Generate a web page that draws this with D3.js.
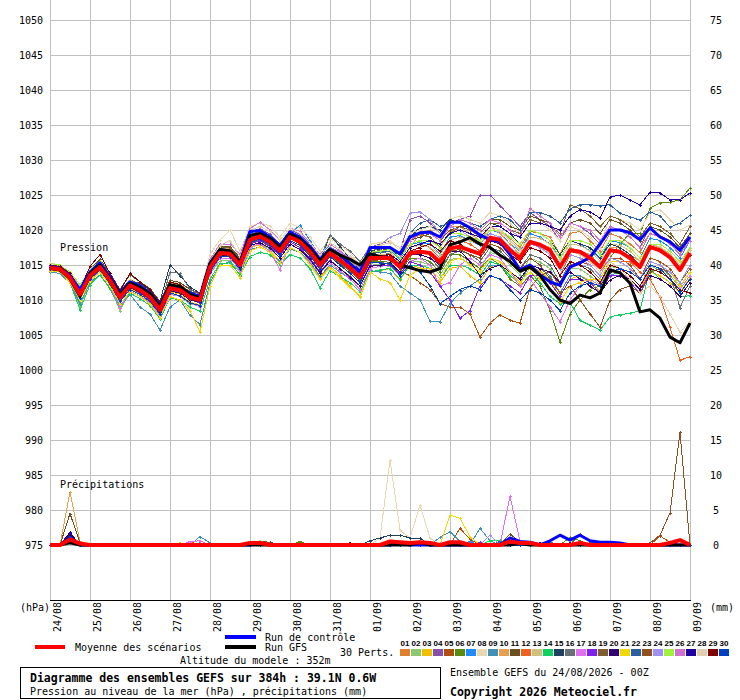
<!DOCTYPE html>
<html>
<head>
<meta charset="utf-8">
<title>Diagramme des ensembles GEFS</title>
<script src="https://cdn.jsdelivr.net/npm/d3@7/dist/d3.min.js"></script>
<style>
  body { margin: 0; background: #fff; }
  text { font-family: "DejaVu Sans Mono", monospace; font-size: 10px; fill: #000; }
  .grid line { stroke: #c0c0c0; stroke-width: 1px; shape-rendering: crispEdges; }
  .pert { fill: none; stroke-width: 1px; shape-rendering: crispEdges; }
  .bold { font-weight: bold; }
</style>
</head>
<body>
<script>
// time steps (hours) and tick labels
var hours = d3.range(0, 385, 6);
var days = ["24/08","25/08","26/08","27/08","28/08","29/08","30/08","31/08","01/09",
            "02/09","03/09","04/09","05/09","06/09","07/09","08/09","09/09"];
var pressTicks = d3.range(975, 1051, 5);
var rainTicks = d3.range(0, 76, 5);

var pertColors = ["#e07f30","#8cc870","#f0c000","#8850a8","#b05010","#5a8a10","#1e8cff","#e8d8b0",
  "#4090b8","#e8a050","#6a5020","#f06020","#d0c080","#10d060","#204060","#687078","#e070f0",
  "#8020f0","#806030","#300070","#f0d800","#2860a0","#905020","#a090f0","#a0f040","#d070d0",
  "#2000a0","#e0d0b0","#800000","#0040c0"];

// sea level pressure (hPa), one value every 6 h
var meanP = [1014.6,1014.4,1013.2,1010.8,1013.5,1014.7,1012.8,1010.4,1012.1,1011.4,
  1010.4,1008.6,1011.7,1011.4,1010.4,1010.0,1014.7,1016.7,1016.6,1015.0,
  1018.6,1019.1,1018.3,1017.0,1019.0,1018.3,1016.9,1015.0,1016.7,1015.7,
  1014.6,1013.3,1016.0,1016.0,1016.0,1014.7,1016.7,1016.9,1016.7,1015.4,
  1017.4,1017.6,1017.1,1016.6,1018.9,1018.6,1017.1,1016.0,1018.3,1017.9,
  1017.1,1014.7,1017.1,1016.9,1016.0,1014.7,1017.1,1016.9,1016.0,1014.7,
  1017.6,1017.1,1016.1,1014.3,1016.7];

var controlP = [1014.8,1014.5,1013.5,1011.5,1014.0,1015.3,1013.3,1011.0,1012.6,1012.0,
  1011.0,1009.2,1012.0,1011.5,1011.0,1010.5,1015.3,1017.2,1017.0,1015.4,
  1019.8,1019.9,1019.0,1017.8,1019.7,1019.0,1017.6,1015.8,1017.3,1016.4,
  1015.2,1014.0,1017.5,1017.5,1017.5,1016.6,1019.0,1019.6,1019.7,1019.0,
  1021.1,1021.1,1020.3,1019.3,1018.6,1018.3,1016.5,1014.3,1015.0,1013.6,
  1012.6,1012.1,1014.7,1015.3,1016.1,1018.0,1020.0,1020.0,1019.6,1018.6,
  1020.3,1019.0,1018.3,1017.1,1019.0];

var gfsP = [1014.5,1014.3,1013.0,1010.5,1013.8,1015.0,1013.0,1010.8,1012.4,1011.8,
  1010.9,1009.0,1012.2,1011.9,1010.8,1010.3,1015.2,1017.2,1017.0,1015.4,
  1019.2,1019.5,1018.8,1017.5,1019.4,1018.7,1017.3,1015.6,1017.2,1016.4,
  1015.8,1015.0,1016.6,1016.2,1015.8,1015.0,1014.6,1014.2,1014.0,1014.5,
  1017.9,1018.3,1018.9,1018.0,1017.5,1016.4,1015.5,1014.1,1014.7,1013.5,
  1011.5,1010.0,1009.5,1010.7,1010.3,1011.0,1014.3,1013.9,1012.4,1008.3,
  1008.6,1007.4,1004.7,1003.9,1006.7];

// the 30 perturbations, 01 to 30
var pertP = [
 [1014.9,1014.7,1013.6,1011.0,1013.9,1015.1,1013.0,1010.8,1012.5,1011.8,
  1010.9,1009.0,1012.0,1011.9,1010.9,1010.4,1015.2,1017.3,1017.0,1015.4,
  1019.2,1019.6,1018.8,1017.4,1019.6,1018.9,1017.3,1015.4,1017.3,1016.4,
  1015.2,1014.0,1016.8,1017.0,1017.5,1016.0,1018.5,1019.3,1019.0,1017.6,
  1019.8,1020.5,1020.0,1019.0,1020.5,1020.0,1018.8,1017.5,1019.8,1019.5,
  1019.0,1016.5,1019.5,1019.8,1018.5,1017.0,1019.5,1019.0,1018.0,1016.8,
  1019.5,1019.2,1018.5,1017.0,1019.5],
 [1014.2,1014.0,1012.4,1009.0,1012.6,1014.0,1012.0,1008.4,1011.2,1010.6,
  1009.6,1007.8,1011.0,1010.5,1009.4,1009.2,1013.8,1015.6,1015.6,1014.0,
  1017.4,1018.0,1017.3,1016.0,1018.0,1017.2,1015.9,1014.0,1015.6,1014.5,
  1013.4,1012.0,1015.2,1015.0,1014.8,1013.5,1015.6,1015.5,1015.0,1013.6,
  1015.8,1016.0,1015.2,1014.5,1016.8,1016.4,1015.0,1013.6,1016.0,1015.4,
  1014.5,1012.0,1014.6,1014.4,1013.5,1012.2,1014.8,1014.5,1013.5,1012.0,
  1014.9,1014.2,1013.5,1011.8,1014.0],
 [1014.4,1014.1,1012.8,1010.2,1013.0,1014.2,1012.2,1009.8,1011.6,1010.9,
  1009.8,1008.0,1011.2,1010.8,1009.7,1009.3,1014.0,1016.0,1016.0,1014.3,
  1017.5,1017.9,1017.0,1015.6,1017.4,1016.8,1015.2,1013.2,1014.8,1013.6,
  1012.0,1010.4,1014.0,1014.2,1014.5,1012.8,1015.0,1014.6,1013.8,1012.5,
  1014.5,1014.8,1013.5,1012.4,1014.8,1015.0,1013.5,1012.2,1014.6,1014.2,
  1012.8,1010.5,1013.0,1013.5,1012.8,1011.2,1014.0,1013.8,1012.6,1011.5,
  1014.0,1013.5,1012.5,1011.0,1013.2],
 [1015.1,1014.9,1013.8,1011.4,1014.1,1015.4,1013.3,1010.9,1012.7,1012.0,
  1011.0,1009.2,1012.3,1012.0,1010.8,1010.5,1015.4,1017.5,1017.4,1015.8,
  1019.7,1020.2,1019.4,1018.0,1020.0,1019.4,1018.0,1016.2,1018.0,1017.0,
  1016.0,1014.6,1017.5,1018.0,1018.5,1017.0,1021.5,1022.0,1021.0,1019.5,
  1021.0,1021.5,1022.0,1025.0,1025.0,1023.5,1022.0,1020.5,1022.5,1021.5,
  1020.5,1018.5,1021.0,1020.5,1019.5,1018.0,1020.5,1020.0,1019.0,1017.5,
  1020.5,1020.0,1019.0,1017.5,1019.5],
 [1015.0,1014.9,1013.9,1011.6,1014.4,1015.5,1013.6,1011.2,1012.9,1012.1,
  1011.0,1009.4,1012.5,1012.0,1011.0,1010.6,1015.3,1017.2,1017.0,1015.5,
  1018.8,1019.3,1018.4,1017.0,1019.1,1018.3,1016.8,1014.8,1016.5,1015.5,
  1014.4,1013.0,1015.8,1015.5,1015.0,1014.0,1013.5,1012.5,1011.5,1009.5,
  1009.0,1009.0,1008.0,1004.7,1006.7,1007.9,1007.1,1006.7,1011.7,1013.5,
  1014.0,1012.0,1015.0,1015.5,1015.0,1013.5,1016.0,1016.0,1015.0,1013.0,
  1016.0,1015.5,1014.5,1012.5,1015.0],
 [1014.3,1014.1,1012.9,1010.4,1013.2,1014.4,1012.5,1010.0,1011.8,1011.1,
  1010.0,1008.2,1011.4,1011.0,1010.0,1009.6,1014.3,1016.3,1016.2,1014.6,
  1018.0,1018.6,1017.8,1016.5,1018.5,1017.8,1016.4,1014.5,1016.2,1015.2,
  1014.1,1012.8,1015.5,1015.5,1015.4,1014.0,1016.0,1016.0,1015.5,1014.0,
  1016.5,1016.5,1015.5,1014.5,1016.0,1015.0,1013.0,1012.0,1013.5,1012.0,
  1008.5,1004.0,1008.0,1010.0,1011.5,1012.0,1016.0,1018.0,1019.5,1019.5,
  1023.1,1023.9,1024.0,1024.3,1026.0],
 [1014.7,1014.5,1013.3,1010.9,1013.6,1014.9,1012.9,1010.5,1012.2,1011.6,
  1010.5,1008.8,1011.8,1011.6,1010.6,1010.2,1015.0,1017.2,1017.3,1015.6,
  1019.6,1020.0,1019.2,1018.0,1019.5,1020.7,1018.5,1016.2,1018.0,1017.0,
  1015.8,1014.4,1017.3,1017.4,1017.2,1015.8,1018.0,1018.2,1018.0,1016.6,
  1019.0,1019.2,1018.5,1017.8,1020.0,1019.6,1018.0,1017.0,1019.5,1019.0,
  1018.0,1016.0,1018.5,1018.0,1017.0,1016.0,1018.5,1018.2,1017.5,1016.0,
  1018.8,1018.5,1017.5,1016.0,1018.5],
 [1015.3,1015.0,1014.0,1011.8,1014.4,1015.6,1013.6,1011.3,1013.0,1012.3,
  1011.3,1009.6,1012.6,1012.4,1011.4,1011.0,1016.5,1018.6,1020.0,1017.0,
  1020.5,1021.0,1020.6,1019.0,1021.0,1020.3,1019.0,1017.0,1018.8,1017.8,
  1016.8,1015.0,1018.0,1018.2,1018.5,1017.0,1019.5,1020.0,1020.0,1019.0,
  1021.5,1022.0,1021.5,1021.0,1022.5,1022.0,1021.0,1019.5,1021.5,1021.0,
  1020.0,1018.5,1020.5,1020.0,1019.0,1017.5,1022.0,1021.5,1021.0,1020.0,
  1022.5,1022.9,1021.5,1020.0,1020.7],
 [1014.0,1013.8,1012.4,1009.5,1012.5,1013.6,1011.7,1009.2,1010.8,1009.0,
  1008.0,1005.7,1009.0,1010.0,1007.8,1006.5,1012.5,1015.0,1015.5,1013.5,
  1017.2,1017.6,1016.8,1015.5,1017.3,1016.8,1015.4,1013.4,1015.0,1014.0,
  1013.0,1011.6,1014.2,1014.0,1013.8,1012.0,1011.0,1010.0,1007.0,1006.9,
  1009.5,1011.0,1012.0,1013.0,1015.0,1015.0,1013.5,1012.5,1015.0,1014.5,
  1013.5,1011.0,1013.5,1013.5,1012.5,1011.0,1013.5,1014.0,1013.0,1011.5,
  1014.5,1014.0,1013.0,1011.5,1013.5],
 [1014.8,1014.6,1013.5,1011.2,1013.8,1015.0,1013.2,1010.8,1012.5,1011.7,
  1010.8,1009.0,1012.0,1011.8,1010.8,1010.5,1015.5,1017.5,1017.3,1015.7,
  1019.0,1019.4,1018.8,1017.6,1019.4,1018.8,1017.5,1015.8,1017.4,1016.6,
  1015.5,1014.5,1017.0,1016.8,1017.0,1015.0,1017.5,1019.5,1020.0,1019.0,
  1020.5,1020.5,1019.5,1018.5,1020.5,1019.5,1018.0,1016.5,1018.5,1018.0,
  1017.5,1015.0,1017.5,1017.0,1016.5,1015.0,1017.5,1017.5,1016.5,1015.5,
  1018.0,1017.5,1016.5,1015.0,1017.5],
 [1015.0,1014.8,1013.8,1011.6,1014.3,1015.8,1013.8,1011.5,1013.6,1012.6,
  1011.6,1009.8,1012.8,1012.5,1011.5,1011.0,1015.8,1017.6,1017.6,1016.0,
  1019.3,1019.6,1018.8,1017.5,1019.4,1018.8,1017.4,1015.6,1017.3,1016.3,
  1015.3,1014.0,1016.8,1017.0,1017.5,1016.5,1018.5,1019.0,1019.5,1018.5,
  1020.0,1020.5,1020.5,1020.0,1021.5,1021.5,1020.5,1020.0,1022.0,1021.5,
  1021.0,1019.0,1021.0,1021.5,1021.0,1019.5,1021.5,1021.0,1020.0,1018.5,
  1020.5,1020.0,1019.0,1017.5,1019.5],
 [1014.5,1014.3,1013.0,1010.6,1013.3,1014.5,1012.6,1010.2,1011.9,1011.3,
  1010.2,1008.4,1011.5,1011.2,1010.2,1009.8,1014.4,1016.4,1016.4,1014.8,
  1018.3,1018.8,1018.0,1016.7,1018.8,1018.0,1016.6,1014.8,1016.4,1015.3,
  1014.2,1013.0,1015.8,1016.2,1016.5,1015.5,1017.5,1018.0,1017.5,1016.0,
  1018.0,1018.5,1018.0,1017.0,1019.0,1018.5,1017.0,1015.5,1017.5,1017.0,
  1016.0,1013.5,1016.5,1016.0,1015.5,1014.0,1016.0,1015.5,1015.5,1014.0,
  1013.0,1010.4,1006.1,1001.4,1001.9],
 [1014.7,1014.5,1013.4,1011.0,1013.7,1014.9,1013.0,1010.6,1012.3,1011.5,
  1010.6,1008.8,1011.9,1011.6,1010.6,1010.2,1015.0,1017.0,1016.9,1015.2,
  1018.8,1019.4,1018.6,1017.2,1019.3,1018.5,1017.2,1015.3,1017.0,1016.0,
  1015.0,1013.7,1016.4,1016.5,1016.6,1015.4,1017.5,1017.8,1017.5,1016.5,
  1018.5,1019.0,1018.5,1018.0,1020.0,1019.8,1018.5,1017.2,1019.0,1018.8,
  1018.0,1015.8,1018.0,1017.8,1017.0,1015.6,1018.0,1017.8,1017.0,1015.5,
  1018.0,1017.6,1016.6,1015.0,1017.2],
 [1014.3,1014.1,1012.5,1008.6,1012.2,1013.6,1011.6,1008.8,1011.0,1010.2,
  1009.2,1007.3,1010.3,1010.0,1009.0,1008.4,1013.0,1015.2,1015.3,1013.6,
  1016.2,1016.8,1016.5,1015.0,1016.5,1016.0,1014.5,1011.7,1014.2,1013.3,
  1012.5,1011.2,1014.0,1014.3,1014.5,1013.0,1015.0,1015.0,1014.5,1013.0,
  1015.0,1015.0,1014.5,1013.5,1015.5,1015.0,1013.5,1012.5,1014.0,1012.5,
  1010.5,1009.5,1009.7,1007.1,1006.4,1005.7,1007.6,1007.9,1008.1,1008.5,
  1014.5,1013.0,1012.0,1010.5,1010.6],
 [1014.8,1014.7,1013.6,1011.3,1013.9,1015.0,1013.2,1010.9,1012.6,1012.4,
  1011.4,1009.8,1015.0,1013.5,1011.8,1011.0,1015.5,1017.2,1017.0,1015.3,
  1018.8,1019.3,1018.5,1017.3,1019.3,1018.6,1017.3,1015.5,1019.3,1017.6,
  1016.0,1014.3,1017.0,1017.3,1017.5,1016.0,1019.0,1020.3,1020.5,1020.0,
  1021.5,1021.0,1020.5,1019.5,1021.0,1020.5,1019.5,1018.0,1020.0,1019.5,
  1018.5,1016.5,1018.5,1018.0,1017.5,1016.0,1018.0,1017.5,1016.5,1015.0,
  1017.5,1017.0,1016.0,1014.5,1016.5],
 [1014.6,1014.4,1013.3,1011.0,1013.6,1014.8,1013.0,1010.6,1012.4,1011.7,
  1010.8,1009.0,1014.0,1013.8,1011.5,1010.8,1015.2,1017.0,1016.8,1015.2,
  1019.0,1019.4,1018.6,1017.4,1019.2,1018.5,1017.3,1016.0,1019.3,1018.0,
  1017.0,1015.5,1017.5,1017.0,1016.5,1015.0,1016.5,1016.5,1016.0,1014.5,
  1016.5,1017.0,1016.5,1015.5,1017.5,1017.0,1015.5,1014.5,1016.5,1016.0,
  1015.0,1012.5,1015.5,1015.0,1014.5,1013.0,1015.5,1015.5,1014.5,1013.0,
  1015.5,1015.0,1013.5,1008.9,1012.0],
 [1014.3,1014.0,1012.6,1010.0,1012.8,1014.0,1012.0,1008.9,1011.3,1010.5,
  1009.6,1007.7,1010.8,1010.5,1009.6,1009.0,1013.8,1016.0,1016.0,1014.2,
  1017.6,1018.0,1017.0,1014.3,1018.0,1017.2,1015.6,1013.8,1015.3,1014.2,
  1013.0,1011.5,1014.5,1014.8,1015.0,1013.5,1015.5,1016.0,1015.0,1012.0,
  1012.5,1015.0,1016.0,1015.0,1016.5,1016.0,1014.0,1012.0,1013.0,1011.0,
  1009.0,1006.9,1010.0,1012.0,1013.0,1012.0,1014.5,1014.0,1013.0,1011.5,
  1014.5,1014.0,1013.0,1011.5,1013.5],
 [1014.5,1014.2,1013.0,1010.5,1013.2,1014.4,1012.5,1010.0,1011.8,1011.0,
  1010.0,1008.2,1011.4,1011.0,1010.0,1009.6,1014.2,1016.2,1016.2,1014.5,
  1018.0,1018.5,1017.6,1016.3,1018.3,1017.5,1016.0,1014.0,1015.7,1014.5,
  1013.2,1012.0,1015.0,1015.0,1015.0,1013.8,1015.5,1015.0,1014.0,1012.0,
  1010.0,1007.4,1008.5,1012.0,1013.5,1013.0,1012.0,1011.0,1013.5,1013.5,
  1012.5,1010.5,1013.0,1013.0,1012.5,1011.0,1013.5,1013.5,1012.5,1011.0,
  1013.5,1013.0,1012.0,1010.5,1012.5],
 [1015.0,1014.8,1013.8,1011.5,1014.2,1015.5,1013.5,1011.2,1012.9,1012.2,
  1011.2,1009.5,1012.5,1012.2,1011.2,1010.9,1015.6,1017.6,1017.4,1015.8,
  1019.3,1019.8,1019.0,1017.7,1019.6,1019.0,1017.6,1015.8,1017.6,1016.7,
  1015.8,1014.5,1016.8,1016.8,1017.0,1016.5,1019.0,1019.5,1019.0,1017.5,
  1019.5,1020.5,1020.0,1019.5,1021.0,1021.0,1020.0,1019.5,1021.5,1021.0,
  1020.5,1019.5,1023.6,1023.0,1022.0,1020.5,1022.0,1021.5,1020.5,1019.0,
  1021.0,1020.5,1019.5,1018.0,1020.5],
 [1014.4,1014.2,1013.0,1010.6,1013.3,1014.4,1012.5,1010.1,1011.8,1011.1,
  1010.1,1008.3,1011.3,1011.0,1010.0,1009.7,1014.4,1016.4,1016.3,1014.7,
  1017.8,1018.2,1017.4,1016.0,1018.0,1017.2,1015.8,1013.9,1015.6,1014.5,
  1013.3,1012.0,1014.8,1015.0,1015.3,1014.0,1016.5,1016.5,1016.0,1015.0,
  1017.0,1017.0,1015.5,1013.5,1014.5,1015.0,1014.0,1013.0,1015.0,1014.5,
  1014.0,1012.5,1014.0,1013.0,1012.0,1011.0,1012.9,1013.5,1013.0,1011.5,
  1013.5,1013.0,1012.0,1010.5,1012.5],
 [1014.2,1014.0,1012.5,1010.0,1012.7,1014.0,1012.0,1009.5,1011.2,1010.5,
  1009.4,1007.5,1010.5,1010.0,1008.5,1005.4,1012.0,1015.0,1015.0,1013.2,
  1017.0,1017.6,1016.8,1015.3,1017.5,1016.8,1015.0,1013.0,1014.6,1013.2,
  1011.8,1010.6,1014.0,1013.0,1012.5,1010.0,1013.5,1014.5,1014.5,1013.0,
  1015.5,1016.0,1015.0,1014.0,1016.0,1015.5,1014.0,1012.5,1014.0,1013.0,
  1011.5,1009.7,1012.0,1012.5,1013.0,1013.0,1015.5,1015.5,1014.5,1013.0,
  1015.5,1015.0,1014.0,1012.0,1014.0],
 [1014.8,1014.6,1013.4,1011.0,1013.7,1015.0,1013.0,1010.6,1012.3,1011.6,
  1010.6,1008.8,1012.0,1011.6,1010.6,1010.2,1015.0,1017.0,1017.0,1015.4,
  1019.0,1019.6,1018.8,1017.5,1019.5,1018.8,1017.4,1015.5,1017.2,1016.2,
  1015.0,1013.8,1016.6,1016.8,1017.0,1016.5,1019.5,1021.0,1021.5,1020.5,
  1021.0,1021.5,1021.0,1020.5,1021.5,1022.0,1021.5,1020.0,1022.5,1022.5,
  1022.0,1021.0,1023.0,1023.6,1023.6,1023.5,1023.6,1022.4,1021.9,1021.4,
  1022.6,1022.0,1020.4,1021.0,1022.1],
 [1014.5,1014.2,1013.0,1010.7,1013.3,1014.5,1012.6,1010.2,1012.0,1011.3,
  1010.2,1008.5,1011.5,1011.2,1010.2,1009.8,1014.5,1016.5,1016.4,1014.8,
  1018.4,1018.9,1018.0,1016.8,1018.8,1018.0,1016.6,1014.6,1016.3,1015.3,
  1014.2,1012.8,1015.6,1015.8,1016.0,1014.5,1016.5,1016.8,1016.5,1015.0,
  1017.0,1017.2,1016.5,1016.0,1018.0,1017.5,1016.0,1014.5,1016.0,1015.0,
  1013.0,1011.0,1012.0,1010.0,1008.0,1006.1,1010.0,1011.5,1012.0,1011.0,
  1014.0,1014.5,1014.0,1012.5,1014.5],
 [1014.9,1014.6,1013.5,1011.2,1013.8,1015.0,1013.1,1010.8,1012.5,1011.8,
  1010.8,1009.1,1012.2,1011.9,1010.9,1010.5,1015.2,1017.2,1017.1,1015.5,
  1019.2,1019.7,1018.9,1017.6,1019.6,1019.0,1017.6,1015.8,1017.6,1016.8,
  1016.0,1014.5,1017.5,1017.8,1019.0,1019.5,1022.4,1022.6,1021.5,1019.5,
  1020.5,1020.0,1019.0,1018.0,1019.5,1019.0,1017.5,1016.0,1018.0,1017.5,
  1016.5,1014.5,1016.5,1016.0,1015.0,1013.5,1016.0,1015.5,1014.5,1013.0,
  1015.5,1015.0,1014.0,1012.5,1015.0],
 [1015.2,1015.0,1014.0,1012.2,1014.2,1015.6,1013.6,1011.0,1012.8,1012.0,
  1011.0,1009.2,1012.4,1012.0,1011.0,1010.7,1015.6,1017.4,1017.2,1015.6,
  1019.2,1019.6,1018.8,1017.5,1019.5,1018.8,1017.4,1015.5,1017.2,1016.4,
  1015.4,1014.2,1016.8,1017.0,1017.2,1016.0,1018.0,1018.5,1018.5,1017.5,
  1019.5,1019.5,1019.0,1018.5,1020.0,1020.0,1019.0,1018.0,1020.0,1019.5,
  1018.5,1016.0,1018.5,1018.5,1018.0,1016.5,1018.5,1018.5,1017.5,1016.0,
  1018.0,1018.0,1017.0,1015.5,1017.5],
 [1014.9,1014.7,1013.6,1011.3,1014.0,1015.2,1013.2,1010.8,1012.6,1011.8,
  1010.9,1009.1,1012.2,1011.9,1010.8,1010.5,1015.8,1018.0,1018.0,1016.5,
  1020.2,1021.1,1020.0,1018.5,1020.3,1019.8,1018.2,1016.5,1018.0,1017.0,
  1016.0,1014.8,1017.5,1017.5,1017.5,1016.5,1018.5,1019.5,1019.5,1018.5,
  1020.5,1021.5,1021.0,1020.0,1021.5,1021.0,1020.0,1019.0,1023.1,1022.0,
  1021.0,1019.0,1021.0,1020.5,1020.0,1018.5,1020.5,1020.0,1019.0,1017.5,
  1019.5,1019.0,1018.0,1016.5,1018.5],
 [1014.7,1014.5,1013.3,1011.0,1013.6,1014.8,1012.9,1010.5,1012.2,1011.5,
  1010.5,1008.7,1011.8,1011.5,1010.5,1010.1,1014.8,1016.8,1016.7,1015.1,
  1018.7,1019.2,1018.4,1017.1,1019.1,1018.4,1017.0,1015.1,1016.8,1015.8,
  1014.7,1013.4,1016.1,1016.2,1016.5,1015.5,1017.5,1018.0,1018.5,1018.0,
  1019.5,1020.0,1019.5,1019.0,1020.5,1020.5,1019.5,1019.0,1021.0,1021.0,
  1020.5,1020.0,1022.0,1022.9,1022.6,1021.7,1024.7,1025.0,1024.3,1023.6,
  1025.4,1025.3,1024.3,1024.3,1025.3],
 [1015.1,1014.8,1013.8,1011.5,1014.0,1015.3,1013.3,1011.0,1012.7,1012.0,
  1011.0,1009.3,1012.3,1012.0,1011.0,1010.6,1015.6,1017.8,1018.5,1016.2,
  1020.0,1020.5,1019.8,1018.5,1020.3,1019.5,1018.2,1016.3,1018.2,1017.3,
  1016.3,1015.0,1017.6,1017.8,1018.2,1017.5,1019.5,1020.0,1020.5,1019.5,
  1021.0,1021.0,1020.5,1019.5,1020.5,1020.0,1018.5,1017.0,1018.5,1018.0,
  1017.0,1015.0,1017.0,1016.5,1015.5,1014.0,1015.5,1014.5,1013.0,1011.0,
  1012.0,1010.5,1008.0,1005.4,1006.9],
 [1015.0,1014.8,1013.8,1011.5,1014.8,1016.5,1013.8,1011.3,1013.8,1012.6,
  1011.5,1009.6,1012.6,1012.2,1011.0,1010.7,1015.4,1017.2,1017.0,1015.4,
  1018.8,1019.2,1018.5,1017.2,1019.0,1018.3,1017.0,1015.2,1016.8,1015.8,
  1014.8,1013.6,1016.2,1016.3,1016.5,1015.0,1017.0,1017.5,1018.0,1017.0,
  1018.5,1018.0,1017.0,1016.5,1018.5,1018.0,1016.5,1015.5,1017.5,1017.0,
  1016.0,1013.5,1015.5,1015.0,1014.0,1012.5,1015.0,1014.5,1013.5,1012.0,
  1014.5,1014.0,1013.0,1011.4,1011.0],
 [1014.4,1014.2,1012.9,1010.3,1013.0,1014.3,1012.3,1009.8,1011.5,1010.8,
  1009.8,1008.0,1011.0,1010.6,1009.6,1009.2,1014.0,1016.2,1016.2,1014.4,
  1018.2,1018.7,1017.9,1016.5,1018.5,1017.8,1016.3,1014.4,1016.2,1015.0,
  1013.8,1012.5,1015.4,1015.3,1015.2,1013.5,1015.0,1014.0,1012.0,1009.5,
  1010.5,1011.5,1012.0,1011.5,1013.5,1013.0,1011.5,1010.0,1011.5,1011.0,
  1010.0,1008.5,1011.0,1012.0,1012.5,1012.0,1014.0,1014.5,1014.0,1013.0,
  1015.0,1014.5,1013.0,1011.0,1013.0]
];

// precipitation (mm per 6 h): only the non-zero steps, as [step, mm]
var meanRain = [[2,0.8],[3,0.2],[20,0.3],[21,0.3],[34,0.5],[35,0.4],[36,0.3],[37,0.4],[38,0.3],
  [40,0.4],[41,0.4],[46,0.5],[47,0.3],[48,0.3],[53,0.3],[62,0.3],[63,0.7]];
var controlRain = [[2,0.9],[21,0.3],[35,0.3],[46,1.0],[47,0.5],[48,0.4],[50,0.6],[51,1.4],[52,0.7],
  [53,1.4],[54,0.6],[55,0.4],[56,0.4],[57,0.3]];
var gfsRain = [[2,0.3],[37,0.4],[47,0.2]];
var pertRain = [
  [[2,0.8],[20,0.2],[34,0.3],[46,0.4]],
  [[2,0.5],[12,0.2],[36,0.3]],
  [[2,1.0],[13,0.3],[38,0.4]],
  [[2,1.2],[40,0.5],[48,0.3]],
  [[2,0.6],[41,2.4],[42,0.8],[61,1.3],[62,0.4]],
  [[2,0.4],[25,0.5],[52,1.1],[53,0.6]],
  [[2,0.9],[15,0.3],[42,0.5]],
  [[2,0.3],[33,1.0],[34,12.1],[35,2.1],[36,1.0],[37,5.7],[38,1.0]],
  [[2,0.6],[15,1.2],[16,0.3],[39,1.1],[40,1.9],[41,0.5],[43,2.4],[44,0.6]],
  [[2,7.6],[3,0.5],[14,0.4]],
  [[2,4.5],[3,0.3],[21,0.5],[22,0.4],[46,1.6],[47,0.4]],
  [[2,0.5],[14,0.5],[35,0.4]],
  [[2,0.4],[47,0.5]],
  [[2,0.3],[44,0.6],[45,0.7]],
  [[2,0.8],[32,0.6],[33,1.0],[34,1.4],[35,1.4],[36,1.0],[37,1.0]],
  [[2,0.5],[50,0.4]],
  [[2,0.7],[14,0.5],[15,0.6],[46,7.0],[47,0.5]],
  [[2,1.0],[43,0.4]],
  [[2,0.6],[53,1.6],[54,0.5]],
  [[2,1.5],[52,0.3]],
  [[2,1.0],[40,4.3],[41,3.8],[42,1.2]],
  [[2,0.6],[45,0.5]],
  [[2,0.4],[60,0.3],[61,1.4],[62,4.6],[63,16.1]],
  [[2,0.5],[44,1.4]],
  [[2,1.1],[21,0.6],[47,0.4]],
  [[2,0.6],[37,0.3]],
  [[2,1.8],[49,0.3]],
  [[2,0.4],[38,0.3]],
  [[2,0.7],[30,0.3]],
  [[2,1.2],[56,0.3]]
];

var width = 740, height = 700;
var svg = d3.select("body").append("svg")
    .attr("width", width)
    .attr("height", height);

var x = d3.scaleLinear().domain([0, 384]).range([50, 690]);
var yP = d3.scaleLinear().domain([975, 1050]).range([545, 20]);
var yR = d3.scaleLinear().domain([0, 75]).range([545, 20]);

// rebuild a full series from the sparse rain list
function fullRain(list) {
  var a = hours.map(function() { return 0; });
  list.forEach(function(p) { a[p[0]] = p[1]; });
  return a;
}

// grid
var grid = svg.append("g").attr("class", "grid");
grid.selectAll(".v").data(d3.range(0, 385, 24)).enter().append("line")
    .attr("x1", function(d) { return x(d) + 0.5; }).attr("x2", function(d) { return x(d) + 0.5; })
    .attr("y1", 0).attr("y2", 600);
grid.selectAll(".h").data(pressTicks).enter().append("line")
    .attr("x1", 50).attr("x2", 690)
    .attr("y1", function(d) { return yP(d) + 0.5; }).attr("y2", function(d) { return yP(d) + 0.5; });
svg.append("line").attr("x1", 50).attr("x2", 691).attr("y1", 600.5).attr("y2", 600.5)
    .attr("stroke", "#000").attr("shape-rendering", "crispEdges");

// axis labels
svg.selectAll(".pl").data(pressTicks).enter().append("text")
    .attr("x", 43).attr("y", function(d) { return yP(d) + 4; })
    .attr("text-anchor", "end").text(function(d) { return d; });
svg.selectAll(".rl").data(rainTicks).enter().append("text")
    .attr("x", 716).attr("y", function(d) { return yR(d) + 4; })
    .attr("text-anchor", "middle").text(function(d) { return d; });
svg.selectAll(".dl").data(days).enter().append("text")
    .attr("text-anchor", "end")
    .attr("transform", function(d, i) { return "translate(" + (x(i * 24) + 11) + ",602) rotate(-90)"; })
    .text(function(d) { return d; });
svg.append("text").attr("x", 20).attr("y", 611).text("(hPa)");
svg.append("text").attr("x", 710).attr("y", 611).text("(mm)");
svg.append("text").attr("x", 60).attr("y", 251).text("Pression");
svg.append("text").attr("x", 60).attr("y", 488).text("Précipitations");

var lineP = d3.line().x(function(d, i) { return x(hours[i]); }).y(function(d) { return yP(d); });
var lineR = d3.line().x(function(d, i) { return x(hours[i]); }).y(function(d) { return yR(d); });

function crosses(vals, y) {
  var p = d3.path();
  vals.forEach(function(v, i) {
    var cx = Math.round(x(hours[i])) + 0.5, cy = Math.round(y(v)) + 0.5;
    p.moveTo(cx - 1.5, cy); p.lineTo(cx + 1.5, cy);
    p.moveTo(cx, cy - 1.5); p.lineTo(cx, cy + 1.5);
  });
  return p.toString();
}

// perturbations: rain then pressure
var plot = svg.append("g");
pertRain.forEach(function(list, k) {
  var r = fullRain(list);
  plot.append("path").attr("class", "pert").attr("stroke", pertColors[k]).attr("d", lineR(r));
  plot.append("path").attr("class", "pert").attr("stroke", pertColors[k]).attr("d", crosses(r, yR));
});
pertP.forEach(function(vals, k) {
  plot.append("path").attr("class", "pert").attr("stroke", pertColors[k]).attr("d", lineP(vals));
  plot.append("path").attr("class", "pert").attr("stroke", pertColors[k]).attr("d", crosses(vals, yP));
});

// control, GFS and mean on top
[[controlP, controlRain, "#0000ff", 3], [gfsP, gfsRain, "#000000", 3], [meanP, meanRain, "#ff0000", 4]]
  .forEach(function(s) {
    plot.append("path").attr("fill", "none").attr("stroke", s[2]).attr("stroke-width", s[3])
        .attr("stroke-linejoin", "round").attr("d", lineP(s[0]));
    plot.append("path").attr("fill", "none").attr("stroke", s[2]).attr("stroke-width", s[3])
        .attr("stroke-linejoin", "round").attr("d", lineR(fullRain(s[1])));
  });

// legend
svg.append("rect").attr("x", 35).attr("y", 645).attr("width", 30).attr("height", 4).attr("fill", "#ff0000");
svg.append("text").attr("x", 75).attr("y", 651).text("Moyenne des scénarios");
svg.append("rect").attr("x", 225).attr("y", 635).attr("width", 31).attr("height", 4).attr("fill", "#0000ff");
svg.append("text").attr("x", 265).attr("y", 641).text("Run de contrôle");
svg.append("rect").attr("x", 225).attr("y", 645).attr("width", 31).attr("height", 4).attr("fill", "#000000");
svg.append("text").attr("x", 265).attr("y", 651).text("Run GFS");
svg.append("text").attr("x", 340).attr("y", 656).text("30 Perts.");
svg.append("text").attr("x", 180).attr("y", 664).text("Altitude du modele : 352m");

var sw = svg.append("g").selectAll("g").data(pertColors).enter().append("g")
    .attr("transform", function(d, i) { return "translate(" + (400 + i * 11) + ",0)"; });
sw.append("rect").attr("y", 649).attr("width", 10).attr("height", 7).attr("fill", function(d) { return d; });
sw.append("text").attr("x", 5).attr("y", 646).attr("text-anchor", "middle")
    .style("font-family", "'Liberation Sans', sans-serif").style("font-size", "8px").style("font-weight", "bold")
    .text(function(d, i) { return d3.format("02")(i + 1); });

// title box
svg.append("rect").attr("x", 20.5).attr("y", 667.5).attr("width", 420).attr("height", 31)
    .attr("fill", "none").attr("stroke", "#000");
svg.append("text").attr("class", "bold").attr("x", 30).attr("y", 682).style("font-size", "11.5px")
    .text("Diagramme des ensembles GEFS sur 384h : 39.1N 0.6W");
svg.append("text").attr("x", 30).attr("y", 695).text("Pression au niveau de la mer (hPa) , précipitations (mm)");
svg.append("text").attr("x", 450).attr("y", 676).text("Ensemble GEFS du 24/08/2026 - 00Z");
svg.append("text").attr("class", "bold").attr("x", 450).attr("y", 696).style("font-size", "11.5px")
    .text("Copyright 2026 Meteociel.fr");
</script>
</body>
</html>
